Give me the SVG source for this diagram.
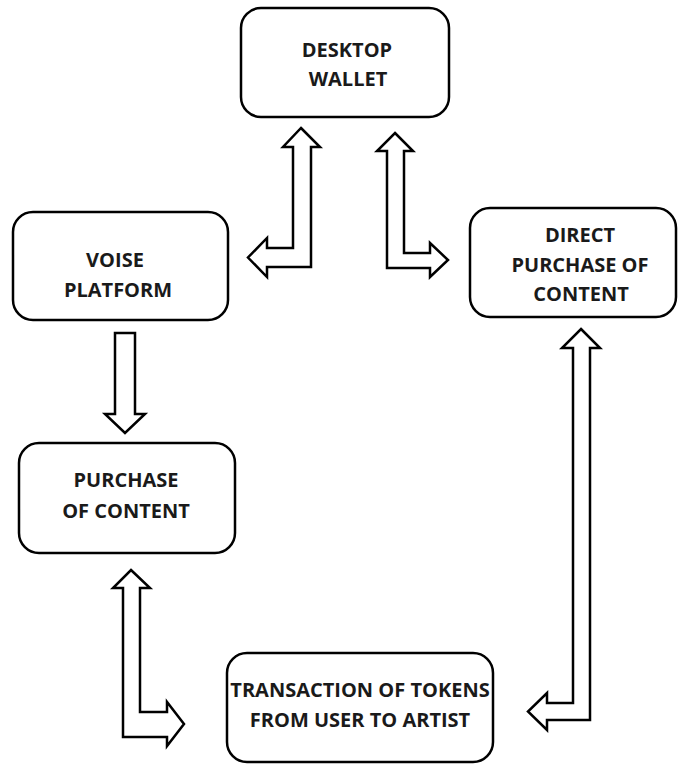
<svg xmlns="http://www.w3.org/2000/svg" width="678" height="764" viewBox="0 0 678 764">
<style>
.box{fill:#fff;stroke:#000;stroke-width:2.5}
.arr{fill:#fff;stroke:#000;stroke-width:2.5;stroke-linejoin:miter}
.lbl{font-family:"Open Sans","Liberation Sans",sans-serif;font-weight:bold;font-size:20px;fill:#1a1a1a;text-anchor:middle}
</style>
<rect width="678" height="764" fill="#fff"/>
<g id="connectors">
<polygon class="arr" points="301,128 320,147 311,147 311,267 267,267 267,277 248,257.5 267,238 267,248 293,248 293,147 283,147"/>
<polygon class="arr" points="395,133 413,151 404,151 404,253 430,253 430,243 448,260 430,277 430,268 387,268 387,151 377,151"/>
<polygon class="arr" points="115,333 135,333 135,414 145,414 125,433 105,414 115,414"/>
<polygon class="arr" points="131,570 150,588 140,588 140,712 167,712 167,702 184,724 167,746 167,737 123,737 123,588 113,588"/>
<polygon class="arr" points="581,329 600,348 590,348 590,720 547,720 547,730 528,711.5 547,693 547,703 573,703 573,348 562,348"/>
</g>
<g id="desktop-wallet">
<rect class="box" x="241" y="8" width="208" height="109" rx="20"/>
<text class="lbl" x="347" y="57">DESKTOP</text>
<text class="lbl" x="348" y="86">WALLET</text>
</g>
<g id="voise-platform">
<rect class="box" x="13" y="212" width="215" height="108" rx="20"/>
<text class="lbl" x="115" y="267">VOISE</text>
<text class="lbl" x="118" y="297">PLATFORM</text>
</g>
<g id="direct-purchase">
<rect class="box" x="470" y="208" width="206" height="109" rx="20"/>
<text class="lbl" x="580" y="242">DIRECT</text>
<text class="lbl" x="580" y="272">PURCHASE OF</text>
<text class="lbl" x="581" y="301">CONTENT</text>
</g>
<g id="purchase-of-content">
<rect class="box" x="19" y="443" width="216" height="110" rx="20"/>
<text class="lbl" x="126" y="487">PURCHASE</text>
<text class="lbl" x="126" y="518">OF CONTENT</text>
</g>
<g id="transaction">
<rect class="box" x="227" y="653" width="266" height="109" rx="20"/>
<text class="lbl" x="360" y="697">TRANSACTION OF TOKENS</text>
<text class="lbl" x="360" y="727">FROM USER TO ARTIST</text>
</g>
</svg>
